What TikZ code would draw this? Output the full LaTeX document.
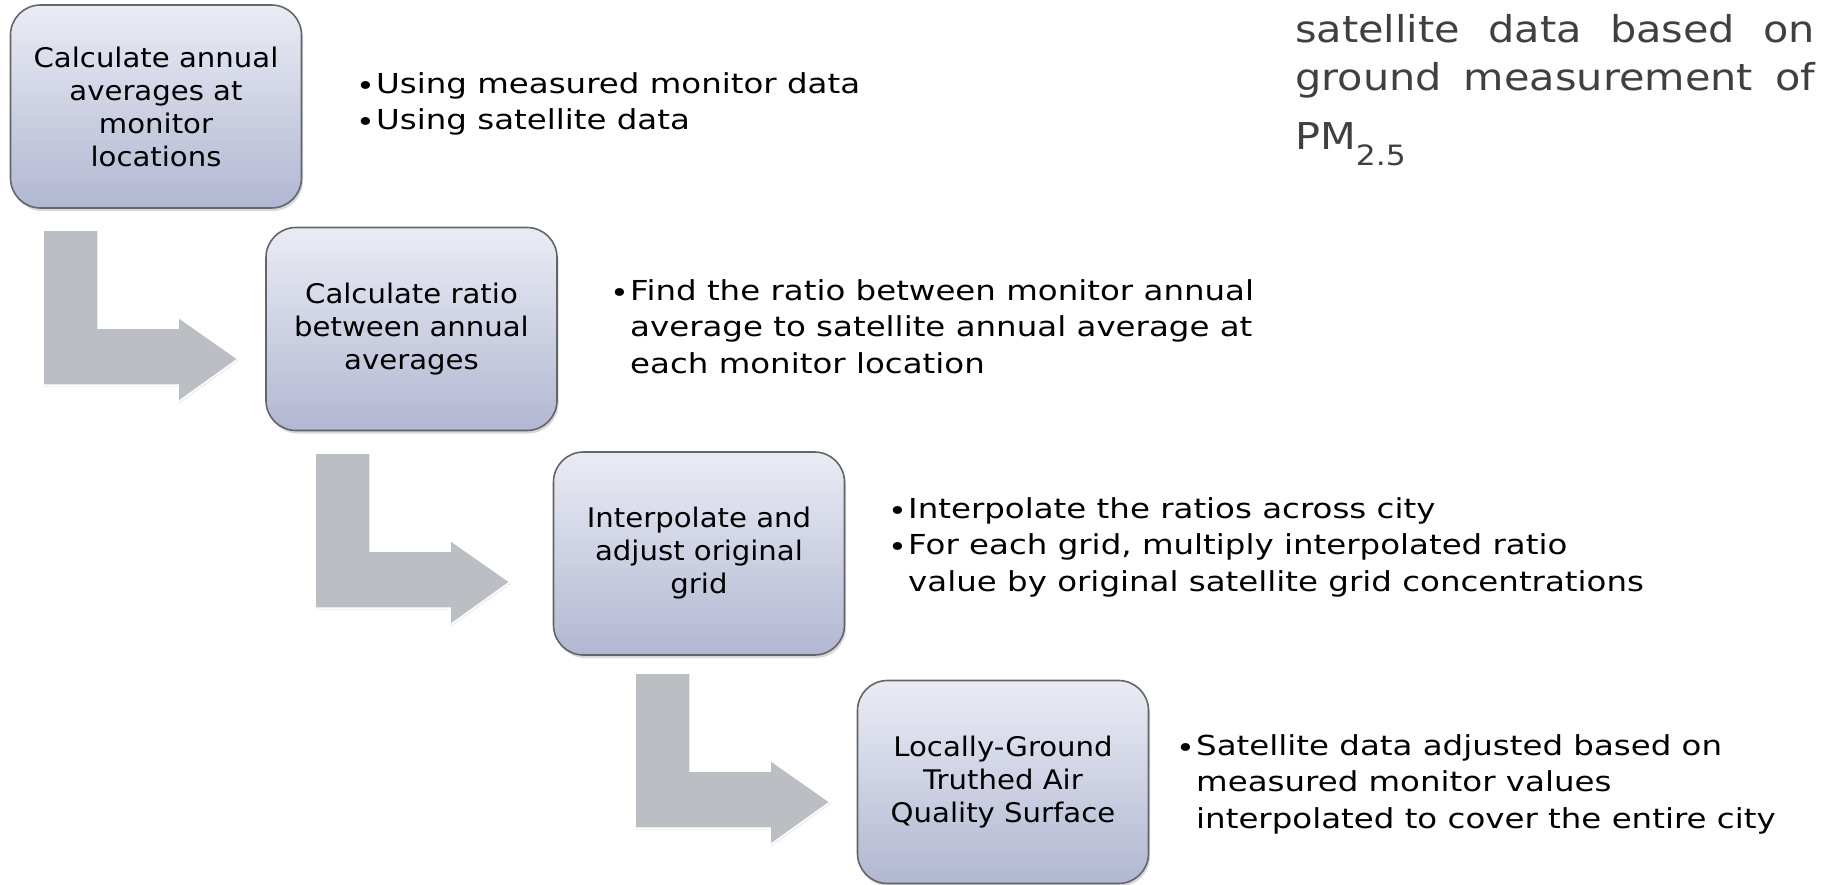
\documentclass[tikz,border=0pt]{standalone}
\usepackage{fontspec}
\setmainfont{DejaVu Sans}
\newfontfamily\boxfont[FakeStretch=1.08]{DejaVu Sans}
\newfontfamily\bulfont[FakeStretch=1.18]{DejaVu Sans}
\newfontfamily\notefont[FakeStretch=1.12]{DejaVu Sans}
\usetikzlibrary{shadows,calc}

\definecolor{boxtop}{RGB}{234,236,244}
\definecolor{boxbot}{RGB}{178,183,210}
\definecolor{boxline}{RGB}{100,100,106}
\definecolor{arrowgray}{RGB}{187,190,195}
\definecolor{notegray}{RGB}{64,64,64}

% bullet mark followed by its gap, and the matching hanging indent
\newcommand\bulletmark{\makebox[20pt][l]{\raisebox{-2pt}{\fontsize{27}{27}\selectfont •}}}
\newcommand\hang{\hspace*{20pt}}

% bent block arrow: vertical bar going down, then right to a head
\newcommand\bentarrow[1]{%
  \begin{scope}[shift={(#1)}]
    \filldraw[blockarrow] (0,0) -- (55,0) -- (55,98) -- (135,98) -- (135,87)
      -- (195,129) -- (135,172) -- (135,155) -- (0,155) -- cycle;
  \end{scope}}

\begin{document}
\begin{tikzpicture}[x=1pt,y=-1pt,
  stepbox/.style={draw=boxline, line width=1.6pt, rounded corners=30pt,
    top color=boxtop, bottom color=boxbot,
    minimum width=291pt, minimum height=203pt, inner sep=0pt, align=center,
    font=\boxfont\fontsize{27}{33}\selectfont,
    drop shadow={opacity=0.3, shadow xshift=1.5pt, shadow yshift=-3pt}},
  bullets/.style={anchor=north west, inner sep=0pt, align=left,
    font=\bulfont\fontsize{27.5}{36.5}\selectfont},
  note/.style={anchor=base west, inner sep=0pt, text=notegray,
    font=\notefont\fontsize{37}{44}\selectfont},
  blockarrow/.style={fill=arrowgray, draw=white, line width=1.5pt,
    drop shadow={opacity=0.18, shadow xshift=1pt, shadow yshift=-1.5pt}}]

\useasboundingbox (0,0) rectangle (1824,884);
\fill[white] (0,0) rectangle (1824,884);

% connecting block arrows (drawn first, boxes sit on top)
\coordinate (a1) at (43,230);
\coordinate (a2) at (315,453);
\coordinate (a3) at (635,673);
\bentarrow{a1}
\bentarrow{a2}
\bentarrow{a3}

% process steps
\node[stepbox] (s1) at (156,106.5) {Calculate annual\\averages at\\monitor\\locations};
\node[stepbox] (s2) at (411.5,329) {Calculate ratio\\between annual\\averages};
\node[stepbox] (s3) at (699,553.5) {Interpolate and\\adjust original\\grid};
\node[stepbox] (s4) at (1003,782) {Locally-Ground\\Truthed Air\\Quality Surface};

% descriptions beside each step
\node[bullets] (d1) at (356,72) {\bulletmark Using measured monitor data\\
  \bulletmark Using satellite data};
\node[bullets] (d2) at (610,279) {\bulletmark Find the ratio between monitor annual\\
  \hang average to satellite annual average at\\
  \hang each monitor location};
\node[bullets] (d3) at (888,497) {\bulletmark Interpolate the ratios across city\\
  \bulletmark For each grid, multiply interpolated ratio\\
  \hang value by original satellite grid concentrations};
\node[bullets] (d4) at (1176,734) {\bulletmark Satellite data adjusted based on\\
  \hang measured monitor values\\
  \hang interpolated to cover the entire city};

% justified note in the upper right
\node[note] (n1) at (1295,42) {\makebox[520pt][s]{satellite data based on}};
\node[note] (n2) at (1295,90) {\makebox[520pt][s]{ground measurement of}};
\node[note] (n3) at (1295,149) {PM\raisebox{-16pt}{\fontsize{28}{28}\selectfont 2.5}};
\end{tikzpicture}
\end{document}
